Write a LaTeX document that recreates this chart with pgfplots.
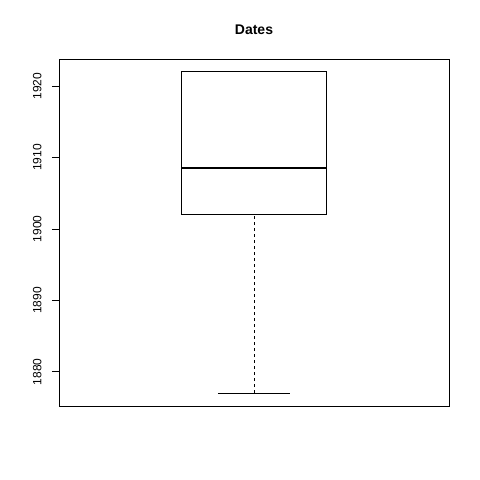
\documentclass[border=0pt]{standalone}
\usepackage{pgfplots}
\pgfplotsset{compat=1.18}
\usepackage{fontspec}
\setmainfont{Liberation Sans}
\begin{document}
\begin{tikzpicture}[x=1pt,y=1pt]
\useasboundingbox (-59,-74) rectangle (421,406);
\begin{axis}[
  at={(0,0)}, anchor=south west,
  scale only axis, width=390pt, height=347pt,
  xmin=0.46, xmax=1.54, ymin=1875.2, ymax=1923.8,
  xtick=\empty,
  ytick={1880,1890,1900,1910,1920},
  yticklabel style={rotate=90, font=\fontsize{12}{14}\selectfont, anchor=south, yshift=7pt},
  /pgf/number format/assume math mode=true,
  /pgf/number format/1000 sep={},
  yticklabel={\pgfmathprintnumber[1000 sep={}]{\tick}},
  tick align=outside, major tick length=7pt,
  ytick pos=left,
  tick style={black, line width=0.8pt},
  axis line style={line width=0.8pt},
  title={\bfseries Dates},
  title style={font=\fontsize{14}{16}\selectfont, yshift=15pt},
  clip=false,
]
\addplot[black, line width=0.8pt, dashed] coordinates {(1,1877) (1,1902)};
\addplot[black, line width=0.8pt] coordinates {(0.9,1877) (1.1,1877)};
\addplot[black, line width=0.8pt] coordinates {(0.9,1922) (1.1,1922)};
\addplot[black, line width=0.8pt] coordinates {(0.8,1902) (1.2,1902) (1.2,1922) (0.8,1922) (0.8,1902)};
\addplot[black, line width=2.2pt] coordinates {(0.8,1908.5) (1.2,1908.5)};
\end{axis}
\end{tikzpicture}
\end{document}
